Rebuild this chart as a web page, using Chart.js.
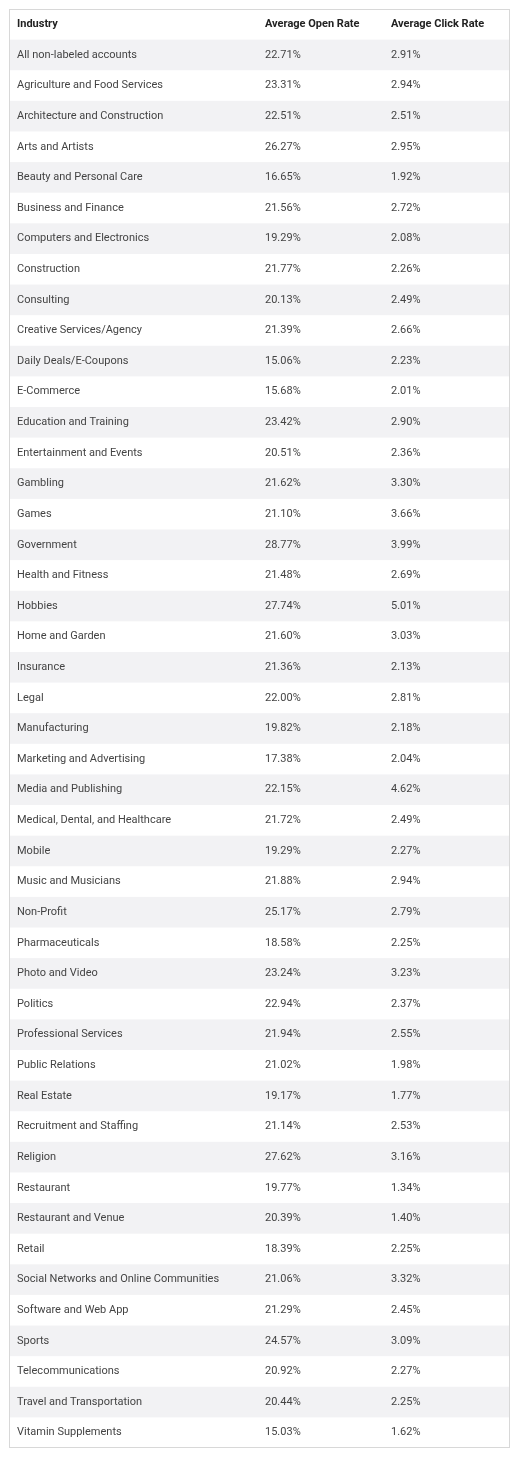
<!DOCTYPE html>
<html>
<head>
<meta charset="utf-8">
<script src="https://cdn.jsdelivr.net/npm/chart.js@4/dist/chart.umd.min.js"></script>
<style>
  html, body { margin: 0; padding: 0; background: #fff; }
  #wrap { position: absolute; left: 9px; top: 9px; width: 501px; height: 1439px; }
</style>
</head>
<body>
<div id="wrap"><canvas id="tbl"></canvas></div>
<script>
'use strict';

const headers = ['Industry', 'Average Open Rate', 'Average Click Rate'];

const industries = [
  'All non-labeled accounts', 'Agriculture and Food Services', 'Architecture and Construction',
  'Arts and Artists', 'Beauty and Personal Care', 'Business and Finance',
  'Computers and Electronics', 'Construction', 'Consulting', 'Creative Services/Agency',
  'Daily Deals/E-Coupons', 'E-Commerce', 'Education and Training', 'Entertainment and Events',
  'Gambling', 'Games', 'Government', 'Health and Fitness', 'Hobbies', 'Home and Garden',
  'Insurance', 'Legal', 'Manufacturing', 'Marketing and Advertising', 'Media and Publishing',
  'Medical, Dental, and Healthcare', 'Mobile', 'Music and Musicians', 'Non-Profit',
  'Pharmaceuticals', 'Photo and Video', 'Politics', 'Professional Services', 'Public Relations',
  'Real Estate', 'Recruitment and Staffing', 'Religion', 'Restaurant', 'Restaurant and Venue',
  'Retail', 'Social Networks and Online Communities', 'Software and Web App', 'Sports',
  'Telecommunications', 'Travel and Transportation', 'Vitamin Supplements'
];

const openRates = [
  22.71, 23.31, 22.51, 26.27, 16.65, 21.56, 19.29, 21.77, 20.13, 21.39,
  15.06, 15.68, 23.42, 20.51, 21.62, 21.10, 28.77, 21.48, 27.74, 21.60,
  21.36, 22.00, 19.82, 17.38, 22.15, 21.72, 19.29, 21.88, 25.17, 18.58,
  23.24, 22.94, 21.94, 21.02, 19.17, 21.14, 27.62, 19.77, 20.39, 18.39,
  21.06, 21.29, 24.57, 20.92, 20.44, 15.03
];

const clickRates = [
  2.91, 2.94, 2.51, 2.95, 1.92, 2.72, 2.08, 2.26, 2.49, 2.66,
  2.23, 2.01, 2.90, 2.36, 3.30, 3.66, 3.99, 2.69, 5.01, 3.03,
  2.13, 2.81, 2.18, 2.04, 4.62, 2.49, 2.27, 2.94, 2.79, 2.25,
  3.23, 2.37, 2.55, 1.98, 1.77, 2.53, 3.16, 1.34, 1.40, 2.25,
  3.32, 2.45, 3.09, 2.27, 2.25, 1.62
];

const rowLabels = ['header'].concat(industries);
const colStarts = [8, 256, 382];

const tablePlugin = {
  id: 'tablePlugin',
  beforeDraw(chart) {
    const { ctx, chartArea, scales } = chart;
    const y = scales.y;
    const x = scales.x;
    const h = y.getPixelForValue(1) - y.getPixelForValue(0);
    ctx.save();
    rowLabels.forEach((label, i) => {
      const cy = y.getPixelForValue(i);
      if (i > 0 && i % 2 === 1) {
        ctx.fillStyle = '#f2f2f4';
        ctx.fillRect(chartArea.left, cy - h / 2, chartArea.right - chartArea.left, h);
      }
      const cells = i === 0
        ? headers
        : [label, openRates[i - 1].toFixed(2) + '%', clickRates[i - 1].toFixed(2) + '%'];
      ctx.fillStyle = i === 0 ? '#222' : '#444';
      ctx.font = (i === 0 ? 'bold ' : '') + '11px Roboto';
      ctx.textBaseline = 'middle';
      cells.forEach((txt, c) => ctx.fillText(txt, x.getPixelForValue(colStarts[c]), cy));
    });
    ctx.strokeStyle = '#d8d8d8';
    ctx.lineWidth = 1;
    ctx.strokeRect(chartArea.left + 0.5, chartArea.top + 0.5,
      chartArea.right - chartArea.left - 1, chartArea.bottom - chartArea.top - 1);
    ctx.restore();
  }
};

new Chart(document.getElementById('tbl').getContext('2d'), {
  type: 'bar',
  data: {
    labels: rowLabels,
    datasets: [{ data: rowLabels.map(() => null) }]
  },
  options: {
    indexAxis: 'y',
    responsive: true,
    maintainAspectRatio: false,
    animation: false,
    layout: { padding: 0 },
    scales: {
      x: { type: 'linear', min: 0, max: 501, display: false },
      y: { type: 'category', display: false, offset: true }
    },
    plugins: { legend: { display: false }, tooltip: { enabled: false } }
  },
  plugins: [tablePlugin]
});
</script>
</body>
</html>
